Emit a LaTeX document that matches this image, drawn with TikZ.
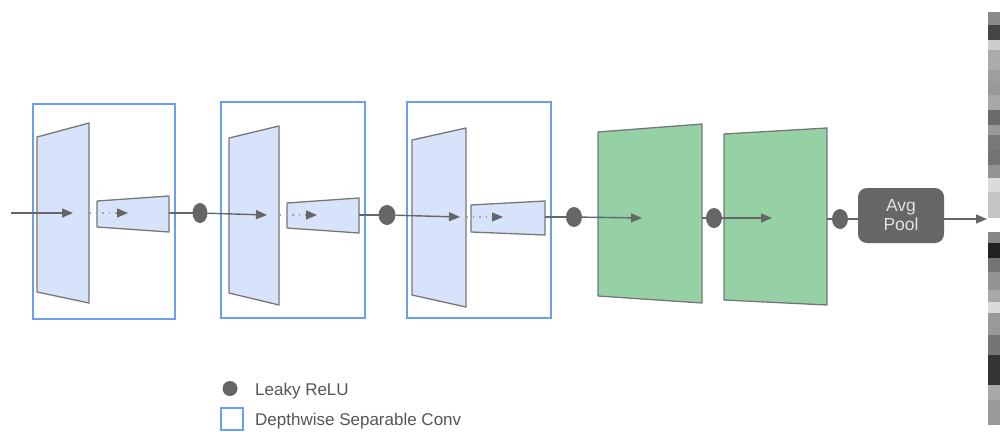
\documentclass[tikz,border=0pt]{standalone}
\usepackage{fontspec}
\setmainfont{Liberation Sans}
\usetikzlibrary{arrows.meta,shapes.geometric}
\definecolor{boxblue}{HTML}{6D9EEB}
\definecolor{trapblue}{HTML}{D7E3FA}
\definecolor{trapgreen}{HTML}{96D1A6}
\definecolor{edgegray}{HTML}{777777}
\definecolor{dotgray}{HTML}{666666}
\definecolor{dotline}{HTML}{A0A0A0}
\definecolor{legendtext}{HTML}{555555}
\definecolor{pooltext}{HTML}{E2E2E2}
\begin{document}
\begin{tikzpicture}[x=1pt,y=-1pt,
  trap/.style={draw=edgegray, line width=1.3pt, line join=round},
  dsbox/.style={draw=boxblue, line width=1.4pt, inner sep=0pt, outer sep=0pt},
  flow/.style={draw=dotgray, line width=1.4pt, -{Triangle[length=11pt,width=9pt]}},
  flowline/.style={draw=dotgray, line width=1.4pt},
  dotflow/.style={draw=dotline, line width=1.5pt, dash pattern=on 1.5pt off 5pt, -{Triangle[length=11pt,width=9pt,color=dotgray]}},
  relu/.style={ellipse, fill=dotgray, minimum width=16pt, minimum height=20pt, inner sep=0pt, outer sep=0pt},
  pool/.style={rectangle, rounded corners=9pt, fill=dotgray, text=pooltext, minimum width=86pt, minimum height=55pt, align=center, inner sep=0pt, font=\fontsize{17.5}{19}\selectfont},
  legendlabel/.style={anchor=base west, text=legendtext, inner sep=0pt, font=\fontsize{17}{20}\selectfont}
]
\useasboundingbox (0,0) rectangle (1000,431);

% depthwise separable conv boxes
\node[dsbox, minimum width=142pt, minimum height=215pt] (box1) at (104,211.5) {};
\node[dsbox, minimum width=144pt, minimum height=216pt] (box2) at (293,210) {};
\node[dsbox, minimum width=144pt, minimum height=216pt] (box3) at (479,210) {};

% stage 1 trapezoids
\draw[trap, fill=trapblue] (37,137) -- (89,123) -- (89,303) -- (37,292) -- cycle;
\draw[trap, fill=trapblue] (97,201) -- (169,196) -- (169,232) -- (97,227) -- cycle;
% stage 2
\draw[trap, fill=trapblue] (229,138) -- (279,126) -- (279,305) -- (229,293) -- cycle;
\draw[trap, fill=trapblue] (287,203) -- (359,198) -- (359,233) -- (287,228) -- cycle;
% stage 3
\draw[trap, fill=trapblue] (412,140) -- (466,128) -- (466,307) -- (412,295) -- cycle;
\draw[trap, fill=trapblue] (471,205) -- (545,201) -- (545,235) -- (471,232) -- cycle;
% green convs
\draw[trap, fill=trapgreen] (598,132) -- (702,124) -- (702,303) -- (598,296) -- cycle;
\draw[trap, fill=trapgreen] (724,134) -- (827,128) -- (827,305) -- (724,300) -- cycle;

% coordinates
\coordinate (in) at (11,213);
\coordinate (t1a) at (73,213);
\coordinate (s1a) at (89,213);
\coordinate (t1b) at (128,213);
\coordinate (s1b) at (169,213);
\coordinate (t2a) at (267,215);
\coordinate (s2a) at (279,215);
\coordinate (t2b) at (317,215);
\coordinate (s2b) at (359,215);
\coordinate (t3a) at (460,217);
\coordinate (s3a) at (466,217);
\coordinate (t3b) at (503,217);
\coordinate (s3b) at (545,217);
\coordinate (t4) at (642,218);
\coordinate (s4) at (702,218);
\coordinate (t5) at (772,218);
\coordinate (s5) at (827,219);
\coordinate (out) at (987,219);

% ReLU dots
\node[relu, minimum width=15pt] (r1) at (200,213) {};
\node[relu, minimum width=17pt] (r2) at (387,215) {};
\node[relu] (r3) at (574,217) {};
\node[relu] (r4) at (714,218) {};
\node[relu] (r5) at (840,219) {};

% Avg pool
\node[pool] (pool) at (901,215.5) {Avg\\Pool};

% connectors
\draw[flow] (in) -- (t1a);
\draw[dotflow] (s1a) -- (t1b);
\draw[flowline] (s1b) -- (r1);
\draw[flow] (r1) -- (t2a);
\draw[dotflow] (s2a) -- (t2b);
\draw[flowline] (s2b) -- (r2);
\draw[flow] (r2) -- (t3a);
\draw[dotflow] (s3a) -- (t3b);
\draw[flowline] (s3b) -- (r3);
\draw[flow] (r3) -- (t4);
\draw[flowline] (s4) -- (r4);
\draw[flow] (r4) -- (t5);
\draw[flowline] (s5) -- (r5);
\draw[flowline] (r5) -- (r5 -| pool.west);
\draw[flow] (pool.east |- out) -- (out);

% feature strip (top); \g = brightness in percent
\foreach \ya/\yb/\g in {12/25/54,25/40/27,40/50/80,50/70/67,70/83/62,83/95/60,95/110/66,110/125/42,125/135/60,135/150/47,150/165/45,165/178/58,178/192/86,192/218/77}{
  \fill[white!\g!black] (988,\ya) rectangle (1000,\yb);
}
% feature strip (bottom)
\foreach \ya/\yb/\g in {232/243/53,243/258/13,258/272/46,272/290/58,290/302/66,302/313/86,313/335/60,335/355/46,355/385/20,385/400/66,400/425/60}{
  \fill[white!\g!black] (988,\ya) rectangle (1000,\yb);
}

% legend
\node[ellipse, fill=dotgray, minimum width=15pt, minimum height=15pt, inner sep=0pt] (legdot) at (230,388.5) {};
\node[legendlabel] (legrelu) at (255,395) {Leaky ReLU};
\node[dsbox, minimum width=22pt, minimum height=22pt] (legbox) at (232,419) {};
\node[legendlabel] (legds) at (255,425) {Depthwise Separable Conv};
\end{tikzpicture}
\end{document}
